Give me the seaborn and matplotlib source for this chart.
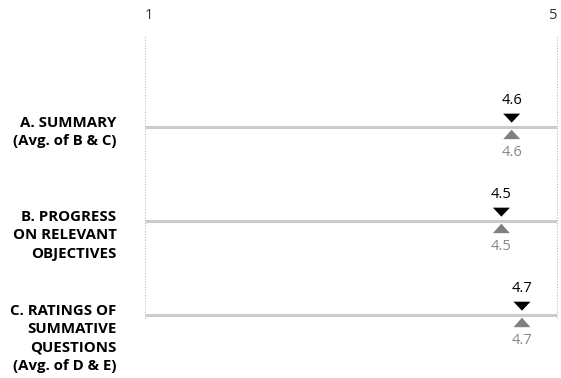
import matplotlib
matplotlib.use("Agg")
import matplotlib.pyplot as plt
import seaborn as sns
import pandas as pd
from matplotlib.path import Path

# --- data ---
categories = [
    "A. SUMMARY\n(Avg. of B & C)",
    "B. PROGRESS\nON RELEVANT\nOBJECTIVES",
    "C. RATINGS OF\nSUMMATIVE\nQUESTIONS\n(Avg. of D & E)",
]
top_scores = [4.56, 4.46, 4.66]      # black marker (above line)
bottom_scores = [4.56, 4.46, 4.66]   # gray marker (below line)
scale_ticks = [1, 5]

df = pd.DataFrame({"row": range(len(categories)), "top": top_scores, "bottom": bottom_scores})

sns.set_style("white")
plt.rcParams["font.family"] = ["Open Sans", "DejaVu Sans"]

fig = plt.figure(figsize=(5.61, 3.78), dpi=100)
ax = fig.add_axes([145 / 561, 1 - 318 / 378, 412 / 561, 283 / 378])

# row lines
ax.hlines(df["row"], scale_ticks[0], scale_ticks[1], color="#cccccc", lw=2.2, zorder=1)

# flattened triangles, drawn just above / below the row line (units ~ px)
down = Path([(-8.5, 13.5), (8.5, 13.5), (0, 4.5), (-8.5, 13.5)],
            [Path.MOVETO, Path.LINETO, Path.LINETO, Path.CLOSEPOLY])
up = Path([(-8.5, -12), (8.5, -12), (0, -2.5), (-8.5, -12)],
          [Path.MOVETO, Path.LINETO, Path.LINETO, Path.CLOSEPOLY])

sns.scatterplot(data=df, x="top", y="row", marker=down, s=(0.72 * 27) ** 2,
                color="black", edgecolor="none", ax=ax, zorder=3, clip_on=False)
sns.scatterplot(data=df, x="bottom", y="row", marker=up, s=(0.72 * 24) ** 2,
                color="#808080", edgecolor="none", ax=ax, zorder=3, clip_on=False)

for i, r in df.iterrows():
    ax.annotate(f"{r['top']:.1f}", (r["top"], r["row"]), xytext=(0, 19.5),
                textcoords="offset points", ha="center", va="center",
                fontsize=10.5, color="black", annotation_clip=False)
    ax.annotate(f"{r['bottom']:.1f}", (r["bottom"], r["row"]), xytext=(0, -18),
                textcoords="offset points", ha="center", va="center",
                fontsize=10.5, color="#888888", annotation_clip=False)
    ax.annotate(categories[i], (scale_ticks[0], r["row"]), xytext=(-20.5, 8),
                textcoords="offset points", ha="right", va="top",
                fontsize=10.8, fontweight="bold", color="black", linespacing=1.4,
                multialignment="right", annotation_clip=False)

# dotted scale ends
for t in scale_ticks:
    ax.axvline(t, color="#bbbbbb", lw=0.8, ls=(0, (1, 1.5)), zorder=0, clip_on=False)

ax.set_xlim(scale_ticks[0], scale_ticks[1])
ax.set_ylim(2.03, -0.98)
ax.xaxis.tick_top()
ax.set_xticks(scale_ticks)
ax.set_xticklabels([str(t) for t in scale_ticks], fontsize=10.5, color="#333333")
ax.tick_params(axis="x", length=0, pad=8.5)
labels = ax.get_xticklabels()
labels[0].set_ha("left")
labels[-1].set_ha("right")
ax.set_yticks([])
ax.set_xlabel("")
ax.set_ylabel("")
for s in ax.spines.values():
    s.set_visible(False)

fig.savefig("out.png", dpi=100)
